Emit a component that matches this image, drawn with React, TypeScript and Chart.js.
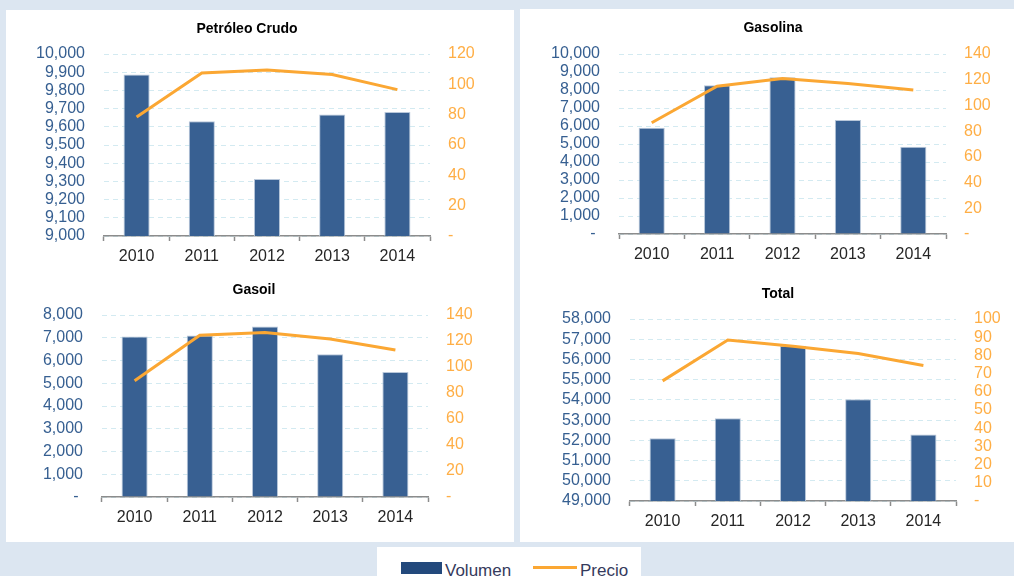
import React, { useEffect, useRef } from "react";
import { Chart, registerables } from "chart.js";

Chart.register(...registerables);

// ---- data ----
const years = ["2010", "2011", "2012", "2013", "2014"];

const crudoVolumen = [9888, 9630, 9313, 9667, 9682];
const crudoPrecio = [78.5, 107.5, 109.5, 106.5, 96.5];
const crudoVolumenRange = [9000, 10000, 100];
const crudoPrecioRange = [0, 120, 20];

const gasolinaVolumen = [5900, 8270, 8710, 6340, 4850];
const gasolinaPrecio = [86.5, 115, 121, 117, 112];
const gasolinaVolumenRange = [0, 10000, 1000];
const gasolinaPrecioRange = [0, 140, 20];

const gasoilVolumen = [7050, 7100, 7500, 6270, 5500];
const gasoilPrecio = [89.5, 124.5, 126.5, 121.5, 113];
const gasoilVolumenRange = [0, 8000, 1000];
const gasoilPrecioRange = [0, 140, 20];

const totalVolumen = [52100, 53090, 56680, 54030, 52290];
const totalPrecio = [66, 88.5, 85, 81, 74.5];
const totalVolumenRange = [49000, 58000, 1000];
const totalPrecioRange = [0, 100, 10];

const legendLabels = ["Volumen", "Precio"];

// ---- styles ----
const FONT = "'Liberation Sans', Arial, sans-serif";
const BAR_COLOR = "#386092";
const LINE_COLOR = "#FBA733";
const LEFT_TICK_COLOR = "#365F91";
const RIGHT_TICK_COLOR = "#FFAE45";
const GRID_COLOR = "#d3eaf1";
const AXIS_COLOR = "#8c8c8c";

function fmt(v: number, left: boolean): string {
  if (v === 0) return left ? "- " : "-";
  return String(Math.round(v)).replace(/\B(?=(\d{3})+(?!\d))/g, ",");
}

type PanelProps = {
  title: string;
  volumen: number[];
  precio: number[];
  volRange: number[];
  preRange: number[];
  x: number;
  y: number;
  w: number;
  h: number;
  leftW: number;
  rightW: number;
  xAxisH: number;
  padTop: number;
  padBottom: number;
};

function Panel(p: PanelProps) {
  const ref = useRef<HTMLCanvasElement | null>(null);
  useEffect(() => {
    if (!ref.current) return;
    const chart = new Chart(ref.current, {
      type: "bar",
      data: {
        labels: years,
        datasets: [
          {
            type: "line",
            label: legendLabels[1],
            data: p.precio,
            yAxisID: "y1",
            borderColor: LINE_COLOR,
            backgroundColor: LINE_COLOR,
            borderWidth: 3,
            pointRadius: 0,
            tension: 0,
            order: 0,
          } as any,
          {
            type: "bar",
            label: legendLabels[0],
            data: p.volumen,
            yAxisID: "y",
            backgroundColor: BAR_COLOR,
            borderColor: "#b8c7da",
            borderWidth: 1,
            barPercentage: 0.4,
            categoryPercentage: 1,
            order: 1,
          } as any,
        ],
      },
      options: {
        responsive: false,
        animation: false,
        devicePixelRatio: 1,
        layout: { padding: 0 },
        plugins: {
          legend: { display: false },
          tooltip: { enabled: false },
          title: {
            display: true,
            text: p.title,
            color: "#000",
            font: { family: FONT, size: 14, weight: "bold", lineHeight: 1.2 },
            padding: { top: p.padTop, bottom: p.padBottom },
          },
        },
        scales: {
          x: {
            type: "category",
            grid: {
              drawOnChartArea: false,
              drawTicks: true,
              tickLength: 5,
              color: AXIS_COLOR,
              tickColor: AXIS_COLOR,
              tickWidth: 1.5,
              offset: true,
            },
            border: { display: true, color: AXIS_COLOR, width: 1.5 },
            ticks: {
              color: "#262626",
              font: { family: FONT, size: 16 },
              padding: 6,
              maxRotation: 0,
              autoSkip: false,
            },
            afterFit: (s: any) => {
              s.height = p.xAxisH;
            },
          },
          y: {
            type: "linear",
            position: "left",
            min: p.volRange[0],
            max: p.volRange[1],
            grid: { color: GRID_COLOR, lineWidth: 1, drawTicks: false },
            border: { display: false, dash: [5, 4] },
            ticks: {
              stepSize: p.volRange[2],
              autoSkip: false,
              color: LEFT_TICK_COLOR,
              font: { family: FONT, size: 16 },
              padding: 19,
              callback: (v: any) => fmt(Number(v), true),
            },
            afterFit: (s: any) => {
              s.width = p.leftW;
            },
          },
          y1: {
            type: "linear",
            position: "right",
            min: p.preRange[0],
            max: p.preRange[1],
            grid: { drawOnChartArea: false, drawTicks: false },
            border: { display: false },
            ticks: {
              stepSize: p.preRange[2],
              autoSkip: false,
              color: RIGHT_TICK_COLOR,
              font: { family: FONT, size: 16 },
              padding: 18,
              callback: (v: any) => fmt(Number(v), false),
            },
            afterFit: (s: any) => {
              s.width = p.rightW;
            },
          },
        },
      } as any,
    });
    return () => chart.destroy();
  }, []);
  return (
    <canvas
      ref={ref}
      width={p.w}
      height={p.h}
      style={{ position: "absolute", left: p.x, top: p.y, width: p.w, height: p.h }}
    />
  );
}

export default function App() {
  return (
    <div
      style={{
        position: "absolute",
        left: 0,
        top: 0,
        width: 1014,
        height: 576,
        overflow: "hidden",
        background: "#dce6f1",
        fontFamily: FONT,
      }}
    >
      <div style={{ position: "absolute", left: 6, top: 10, width: 508, height: 532, background: "#fff" }} />
      <div style={{ position: "absolute", left: 520, top: 9, width: 494, height: 533, background: "#fff" }} />

      <Panel
        title="Petróleo Crudo"
        volumen={crudoVolumen}
        precio={crudoPrecio}
        volRange={crudoVolumenRange}
        preRange={crudoPrecioRange}
        x={6}
        y={10}
        w={482}
        h={265}
        leftW={98}
        rightW={58}
        xAxisH={39}
        padTop={11.2}
        padBottom={16}
      />
      <Panel
        title="Gasolina"
        volumen={gasolinaVolumen}
        precio={gasolinaPrecio}
        volRange={gasolinaVolumenRange}
        preRange={gasolinaPrecioRange}
        x={532}
        y={10}
        w={482}
        h={265}
        leftW={87}
        rightW={68}
        xAxisH={41}
        padTop={10.2}
        padBottom={17}
      />
      <Panel
        title="Gasoil"
        volumen={gasoilVolumen}
        precio={gasoilPrecio}
        volRange={gasoilVolumenRange}
        preRange={gasoilPrecioRange}
        x={6}
        y={275}
        w={496}
        h={267}
        leftW={96}
        rightW={74}
        xAxisH={45}
        padTop={7.2}
        padBottom={16}
      />
      <Panel
        title="Total"
        volumen={totalVolumen}
        precio={totalPrecio}
        volRange={totalVolumenRange}
        preRange={totalPrecioRange}
        x={542}
        y={275}
        w={472}
        h={267}
        leftW={88}
        rightW={58}
        xAxisH={41}
        padTop={11.2}
        padBottom={16}
      />

      <div style={{ position: "absolute", left: 377, top: 547, width: 264, height: 29, background: "#fff" }}>
        <div style={{ position: "absolute", left: 24, top: 15, width: 41, height: 12, background: "#23497c" }} />
        <span
          style={{
            position: "absolute",
            left: 68,
            top: 14.5,
            fontSize: 17,
            lineHeight: "17px",
            color: "#353a5c",
            whiteSpace: "nowrap",
          }}
        >
          {legendLabels[0]}
        </span>
        <div style={{ position: "absolute", left: 156, top: 18.5, width: 44, height: 3, background: LINE_COLOR }} />
        <span
          style={{
            position: "absolute",
            left: 203,
            top: 14.5,
            fontSize: 17,
            lineHeight: "17px",
            color: "#353a5c",
            whiteSpace: "nowrap",
          }}
        >
          {legendLabels[1]}
        </span>
      </div>
    </div>
  );
}
